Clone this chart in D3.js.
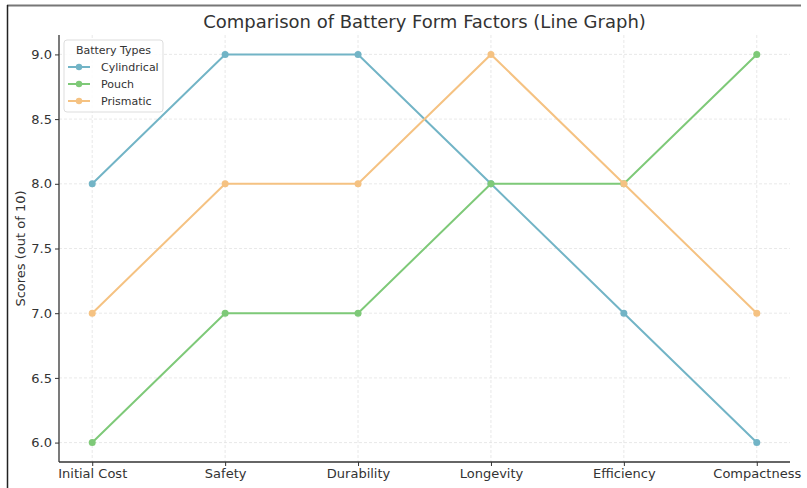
<!DOCTYPE html>
<html>
<head>
<meta charset="utf-8">
<script src="https://cdn.jsdelivr.net/npm/d3@7"></script>
<style>
  html, body { margin: 0; padding: 0; background: #fff; }
  svg { display: block; font-family: "DejaVu Sans", sans-serif; }
</style>
</head>
<body>
<svg id="chart" width="807" height="488"></svg>
<script>
// Scores for each battery form factor across the evaluated criteria
const categories = ["Initial Cost", "Safety", "Durability", "Longevity", "Efficiency", "Compactness"];
const cylindrical = [8, 9, 9, 8, 7, 6];
const pouch = [6, 7, 7, 8, 8, 9];
const prismatic = [7, 8, 8, 9, 8, 7];
const yTicks = [6.0, 6.5, 7.0, 7.5, 8.0, 8.5, 9.0];
const seriesNames = ["Cylindrical", "Pouch", "Prismatic"];
const seriesColors = ["#72b4c6", "#7ec978", "#f5c282"];

const series = [
  { name: seriesNames[0], values: cylindrical, color: seriesColors[0] },
  { name: seriesNames[1], values: pouch, color: seriesColors[1] },
  { name: seriesNames[2], values: prismatic, color: seriesColors[2] }
];

const svg = d3.select("#chart");
const plot = { left: 59, right: 790, top: 35, bottom: 462 };

// Outer frame (top and left edges)
svg.append("line").attr("x1", 7).attr("x2", 801).attr("y1", 5.5).attr("y2", 5.5)
  .attr("stroke", "#777").attr("stroke-width", 2);
svg.append("line").attr("x1", 7.5).attr("x2", 7.5).attr("y1", 5).attr("y2", 488)
  .attr("stroke", "#222").attr("stroke-width", 1.5);

// Index scale with matplotlib-like 5% padding on each side
const x = d3.scaleLinear().domain([-0.25, categories.length - 1 + 0.25]).range([plot.left, plot.right]);
const y = d3.scaleLinear().domain([5.85, 9.15]).range([plot.bottom, plot.top]);

// Grid
const grid = svg.append("g").attr("stroke", "#e3e3e3").attr("stroke-width", 0.8).attr("stroke-dasharray", "3,2");
grid.selectAll(".gy").data(yTicks).join("line")
  .attr("x1", plot.left).attr("x2", plot.right)
  .attr("y1", d => y(d)).attr("y2", d => y(d));
grid.selectAll(".gx").data(categories).join("line")
  .attr("x1", (d, i) => x(i)).attr("x2", (d, i) => x(i))
  .attr("y1", plot.top).attr("y2", plot.bottom);

// Axes
const xAxis = d3.axisBottom(x).tickValues(d3.range(categories.length))
  .tickFormat(i => categories[i]).tickSize(4).tickPadding(3);
const yAxis = d3.axisLeft(y).tickValues(yTicks).tickFormat(d3.format(".1f")).tickSize(4).tickPadding(3);

const gx = svg.append("g").attr("transform", `translate(0,${plot.bottom})`).call(xAxis);
const gy = svg.append("g").attr("transform", `translate(${plot.left},0)`).call(yAxis);
[gx, gy].forEach(g => {
  g.select(".domain").attr("stroke", "#333").attr("stroke-width", 1.3);
  g.selectAll(".tick line").attr("stroke", "#333").attr("stroke-width", 1);
  g.selectAll(".tick text").attr("fill", "#333").attr("font-size", 13)
    .attr("font-family", "DejaVu Sans, sans-serif");
});
gx.select(".domain").attr("d", `M${plot.left},0H${plot.right}`);
gy.select(".domain").attr("d", `M0,${plot.bottom}V${plot.top}`);

// Title and axis label
svg.append("text").attr("x", (plot.left + plot.right) / 2).attr("y", 28)
  .attr("text-anchor", "middle").attr("font-size", 18).attr("fill", "#333")
  .text("Comparison of Battery Form Factors (Line Graph)");
svg.append("text")
  .attr("transform", `translate(25,${(plot.top + plot.bottom) / 2}) rotate(-90)`)
  .attr("text-anchor", "middle").attr("font-size", 13).attr("fill", "#333")
  .text("Scores (out of 10)");

// Lines and markers
const line = d3.line().x((d, i) => x(i)).y(d => y(d));
series.forEach(s => {
  const g = svg.append("g");
  g.append("path").datum(s.values).attr("d", line)
    .attr("fill", "none").attr("stroke", s.color).attr("stroke-width", 2);
  g.selectAll("circle").data(s.values).join("circle")
    .attr("cx", (d, i) => x(i)).attr("cy", d => y(d)).attr("r", 3.5)
    .attr("fill", s.color);
});

// Legend
const lg = svg.append("g").attr("transform", "translate(64,40)");
lg.append("rect").attr("x", 0).attr("y", 0).attr("width", 99).attr("height", 72).attr("rx", 3)
  .attr("fill", "#fff").attr("fill-opacity", 0.85).attr("stroke", "#ddd");
lg.append("text").attr("x", 49.5).attr("y", 14).attr("text-anchor", "middle")
  .attr("font-size", 11).attr("fill", "#333").text("Battery Types");
series.forEach((s, i) => {
  const yy = 27 + i * 17;
  lg.append("line").attr("x1", 4).attr("x2", 26).attr("y1", yy).attr("y2", yy)
    .attr("stroke", s.color).attr("stroke-width", 2);
  lg.append("circle").attr("cx", 15).attr("cy", yy).attr("r", 3.2).attr("fill", s.color);
  lg.append("text").attr("x", 37).attr("y", yy + 4).attr("font-size", 11).attr("fill", "#333").text(s.name);
});
</script>
</body>
</html>
